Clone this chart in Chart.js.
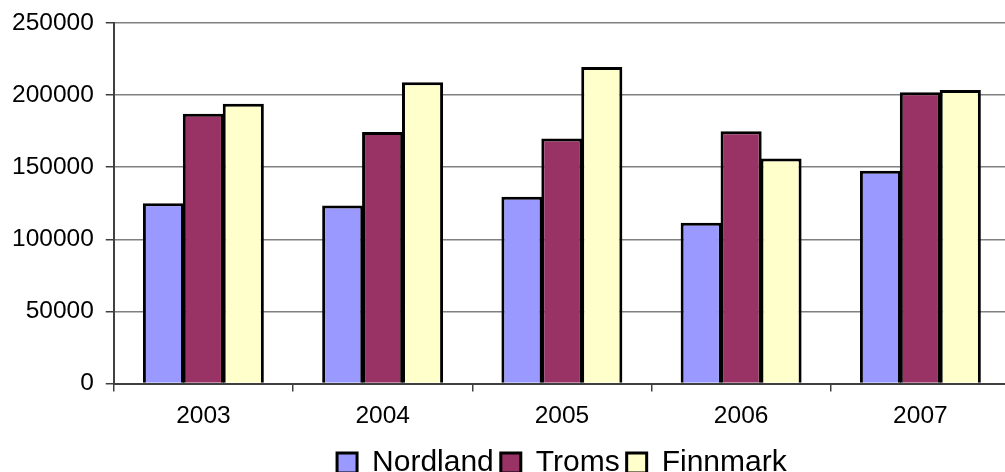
<!DOCTYPE html>
<html>
<head>
<meta charset="utf-8">
<script src="https://cdn.jsdelivr.net/npm/chart.js@4/dist/chart.umd.min.js"></script>
<style>
  html, body { margin: 0; padding: 0; background: #fff; overflow: hidden; }
  #wrap { width: 1010px; height: 488px; position: relative; }
</style>
</head>
<body>
<div id="wrap"><canvas id="c"></canvas></div>
<script>
const categories = ['2003', '2004', '2005', '2006', '2007'];
const nordland = [125000, 123500, 129500, 111500, 147500];
const troms = [187000, 174500, 170000, 175000, 202000];
const finnmark = [194000, 209000, 219500, 156000, 203500];
const yTicks = [0, 50000, 100000, 150000, 200000, 250000];

const font = "'Liberation Sans', Arial, sans-serif";

const centerLegend = {
  id: 'centerLegend',
  afterLayout(chart) {
    const l = chart.legend;
    if (!l) return;
    const shift = (chart.chartArea.left + chart.chartArea.right) / 2 - (l.left + l.right) / 2;
    l.left += shift;
    l.right += shift;
  }
};

new Chart(document.getElementById('c'), {
  type: 'bar',
  data: {
    labels: categories,
    datasets: [
      { label: 'Nordland', data: nordland, backgroundColor: '#9999FF', borderColor: '#000', borderWidth: 3 },
      { label: 'Troms', data: troms, backgroundColor: '#993366', borderColor: '#000', borderWidth: 3 },
      { label: 'Finnmark', data: finnmark, backgroundColor: '#FFFFCC', borderColor: '#000', borderWidth: 3 }
    ]
  },
  plugins: [centerLegend],
  options: {
    responsive: true,
    maintainAspectRatio: false,
    animation: false,
    layout: { padding: { top: 0, left: 0, right: 0, bottom: 0 } },
    datasets: { bar: { categoryPercentage: 0.668, barPercentage: 1.03 } },
    plugins: {
      tooltip: { enabled: false },
      legend: {
        position: 'bottom',
        labels: {
          font: { family: font, size: 30, lineHeight: 1.0 },
          color: '#000',
          boxWidth: 20,
          boxHeight: 20,
          padding: 7
        }
      }
    },
    scales: {
      x: {
        grid: { drawOnChartArea: false, drawTicks: true, tickLength: 8, color: '#404040', lineWidth: 1.5, offset: true },
        border: { color: '#404040', width: 2 },
        ticks: { font: { family: font, size: 24.5, lineHeight: 1.0 }, color: '#000', padding: 12.5 }
      },
      y: {
        min: 0, max: 250000,
        afterBuildTicks: (axis) => { axis.ticks = yTicks.map(v => ({ value: v })); },
        grid: { color: '#808080', lineWidth: 1.5, tickLength: 8, tickColor: '#404040' },
        border: { color: '#404040', width: 2 },
        ticks: { font: { family: font, size: 24.5, lineHeight: 0.9 }, color: '#000', padding: 12, callback: (v) => String(v) }
      }
    }
  }
});
</script>
</body>
</html>
